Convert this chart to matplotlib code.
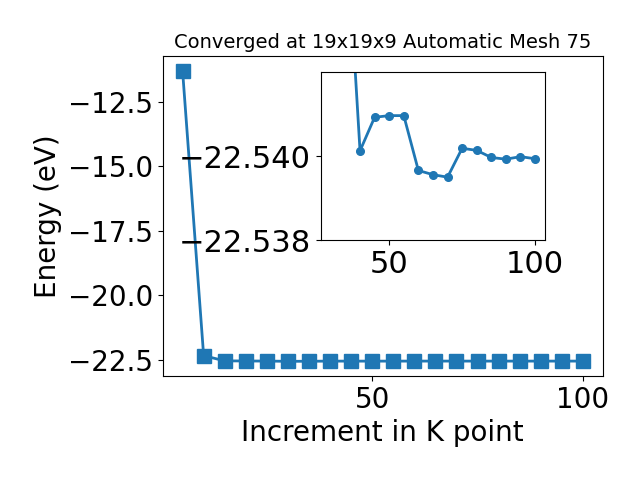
import matplotlib
matplotlib.use("Agg")
import matplotlib.pyplot as plt
from matplotlib.ticker import ScalarFormatter

kpoints = [5, 10, 15, 20, 25, 30, 35, 40, 45, 50, 55, 60, 65, 70, 75, 80, 85, 90, 95, 100]
energy = [-11.3, -22.33, -22.53, -22.536, -22.539, -22.548, -22.5459, -22.54013,
          -22.54093, -22.54097, -22.54097, -22.53966, -22.53956, -22.5395,
          -22.54019, -22.54014, -22.53997, -22.53993, -22.53999, -22.53994]
inset_start = 5  # inset shows points from k = 30

fig = plt.figure(figsize=(6.4, 4.8), dpi=100)
ax = fig.add_axes([0.254, 0.217, 0.688, 0.666])
ax.plot(kpoints, energy, marker='s', markersize=10, linewidth=2, color='#1f77b4')
ax.set_xlabel('Increment in K point', fontsize=20)
ax.set_ylabel('Energy (eV)', fontsize=20)
ax.set_title('Converged at 19x19x9 Automatic Mesh 75', fontsize=14)
ax.set_xticks([50, 100])
ax.tick_params(labelsize=20)

ax2 = fig.add_axes([0.501, 0.5, 0.351, 0.349])
ax2.plot(kpoints[inset_start:], energy[inset_start:], marker='o', markersize=5.5,
         linewidth=2, color='#1f77b4')
ax2.set_ylim(-22.538, -22.542)
ax2.set_yticks([-22.540, -22.538])
ax2.yaxis.set_major_formatter(ScalarFormatter(useOffset=False))
ax2.set_xticks([50, 100])
ax2.tick_params(labelsize=22)

fig.savefig('out.png', dpi=100)
